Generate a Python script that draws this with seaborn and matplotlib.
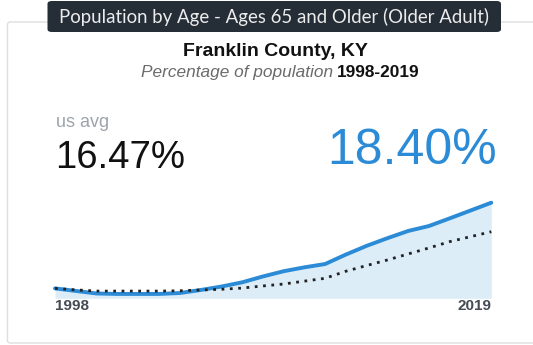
import matplotlib
matplotlib.use("Agg")
import matplotlib.pyplot as plt
from matplotlib.patches import FancyBboxPatch
import seaborn as sns
import pandas as pd

# Share of population aged 65 and older, 1998-2019
years = list(range(1998, 2020))
county_pct = [12.70, 12.53, 12.36, 12.33, 12.33, 12.33, 12.39, 12.59, 12.82, 13.10,
              13.49, 13.84, 14.10, 14.32, 14.95, 15.53, 16.04, 16.52, 16.85, 17.36,
              17.88, 18.40]
us_pct = [12.70, 12.60, 12.52, 12.52, 12.52, 12.52, 12.54, 12.59, 12.64, 12.72,
          12.86, 12.99, 13.18, 13.37, 13.84, 14.22, 14.59, 14.99, 15.39, 15.81,
          16.14, 16.47]

badge_title = "Population by Age - Ages 65 and Older (Older Adult)"
place = "Franklin County, KY"
subtitle_lead = "Percentage of population"
period = "1998-2019"

sns.set_theme(style="white")
plt.rcParams["font.family"] = ["Liberation Sans", "DejaVu Sans"]

df = pd.DataFrame({"year": years, "county": county_pct, "us": us_pct})

W, H = 533, 345
fig = plt.figure(figsize=(W / 100, H / 100), dpi=100)
fig.patch.set_facecolor("white")

def fx(px):
    return px / W

def fy(py):
    return 1 - py / H

# Card outline
card = FancyBboxPatch((fx(7.5), fy(343)), fx(545) - fx(7.5), fy(22) - fy(343),
                      boxstyle="round,pad=0,rounding_size=0.006",
                      transform=fig.transFigure, facecolor="white",
                      edgecolor="#dedede", linewidth=1.0, zorder=-2)
fig.patches.append(card)

# Title badge
badge = FancyBboxPatch((fx(47.5), fy(32)), fx(501) - fx(47.5), fy(1) - fy(32),
                       boxstyle="round,pad=0,rounding_size=0.008",
                       transform=fig.transFigure, facecolor="#252d37",
                       edgecolor="none", zorder=-1)
fig.patches.append(badge)
fig.text(fx(274), fy(17), badge_title, family=["Lato", "DejaVu Sans"],
         fontsize=13.4, color="#ececec", ha="center", va="center")

fig.text(fx(275), fy(55.5), place, fontsize=14, fontweight="bold",
         color="#111111", ha="center", va="baseline")
fig.text(fx(333.5), fy(77), subtitle_lead, fontsize=12.4, style="italic",
         color="#6b6b6b", ha="right", va="baseline")
fig.text(fx(337.3), fy(77), period, fontsize=12.4, fontweight="bold",
         color="#111111", ha="left", va="baseline")

fig.text(fx(56), fy(126.7), "us avg", fontsize=13, color="#9ea4aa",
         ha="left", va="baseline")
fig.text(fx(55), fy(168.3), f"{us_pct[-1]:.2f}%", fontsize=27.6, color="#111111",
         ha="left", va="baseline")
fig.text(fx(497), fy(164.3), f"{county_pct[-1]:.2f}%", fontsize=36,
         color="#2b8bd6", ha="right", va="baseline")

# Trend chart
y_min = 12.04
ax = fig.add_axes([fx(55), fy(298.3), fx(491.3) - fx(55), fy(202.7) - fy(298.3)])
ax.set_zorder(1)
ax.patch.set_alpha(0)
ax.fill_between(df["year"], df["county"], y_min, color="#ddedf8", linewidth=0)
sns.lineplot(data=df, x="year", y="county", ax=ax, color="#2b8bd6",
             linewidth=2.8, clip_on=False)
sns.lineplot(data=df, x="year", y="us", ax=ax, color="#222222",
             linewidth=2.0, linestyle=(0, (1, 2)), clip_on=False)
ax.set_xlim(years[0], years[-1])
ax.set_ylim(y_min, county_pct[-1])
ax.axis("off")

fig.text(fx(55), fy(306), str(years[0]), fontsize=11, fontweight="bold",
         color="#444b54", ha="left", va="center")
fig.text(fx(491.3), fy(306), str(years[-1]), fontsize=11, fontweight="bold",
         color="#444b54", ha="right", va="center")

fig.savefig("out.png", dpi=100, facecolor="white")
